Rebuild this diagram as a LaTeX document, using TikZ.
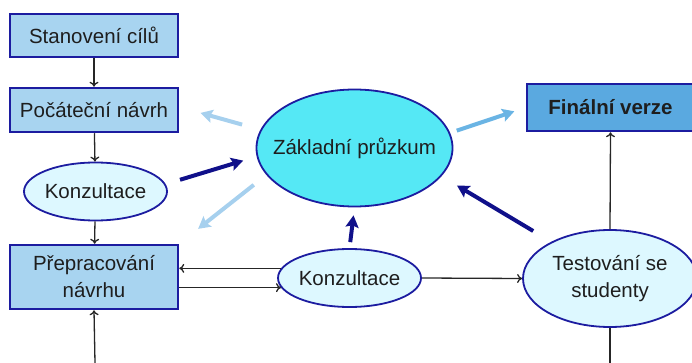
\documentclass[tikz,border=0pt]{standalone}
\usepackage{fontspec}
\setmainfont{Liberation Sans}
\usetikzlibrary{arrows.meta,positioning,shapes.geometric}

\definecolor{boxblue}{HTML}{A8D4F0}
\definecolor{edgenavy}{HTML}{1C1CA0}
\definecolor{paleblue}{HTML}{DDF8FF}
\definecolor{cyanfill}{HTML}{55E8F5}
\definecolor{finalblue}{HTML}{5AA9E0}
\definecolor{lightarrow}{HTML}{A6D0EE}
\definecolor{midarrow}{HTML}{6AB4E4}
\definecolor{darkarrow}{HTML}{10108A}
\definecolor{textgray}{HTML}{1E1E1E}

\begin{document}
\begin{tikzpicture}[x=1pt, y=-1pt,
  every node/.style={font=\fontsize{20.5}{27}\selectfont, text=textgray},
  stepbox/.style={draw=edgenavy, line width=2.5pt, fill=boxblue,
    minimum width=168pt, minimum height=44pt, inner sep=0pt, align=center},
  konz/.style={ellipse, draw=edgenavy, line width=1.8pt, fill=paleblue,
    inner xsep=-6pt, inner ysep=0pt, minimum width=143pt, minimum height=58pt},
  conn/.style={-{To[length=5pt,width=9pt]}, line width=1.3pt, black!85},
  lightarr/.style={-{Stealth[length=12pt,width=13pt,inset=2pt]}, line width=4pt, lightarrow},
  midarr/.style={lightarr, midarrow},
  navyarr/.style={lightarr, darkarrow}]
\useasboundingbox (0,0) rectangle (692,363);
% left column
\node[stepbox, minimum height=43pt] (stanoveni) at (94,35.5) {Stanovení cílů};
\node[stepbox] (pocatecni) at (94,110) {Počáteční návrh};
\node[konz] (konz1) at (95.5,191.5) {Konzultace};
\node[stepbox, minimum height=64pt] (prepracovani) at (94,277) {Přepracování\\návrhu};
\draw[conn] (stanoveni) -- (pocatecni);
\draw[conn] (pocatecni) -- (konz1);
\draw[conn] (konz1) -- (prepracovani);
% middle and right
\node[ellipse, draw=edgenavy, line width=1.8pt, fill=cyanfill, inner xsep=-22pt,
  inner ysep=0pt, minimum width=196pt, minimum height=117pt] (zakladni) at (354.5,148) {Základní průzkum};
\node[konz] (konz2) at (349.5,278) {Konzultace};
\node[stepbox, fill=finalblue, font=\fontsize{20.5}{27}\selectfont\bfseries,
  minimum width=167pt, minimum height=47pt] (finalni) at (610.5,107.5) {Finální verze};
\node[konz, inner xsep=0pt, minimum width=174pt, minimum height=97pt, align=center]
  (testovani) at (610,278.5) {Testování se\\studenty};
\coordinate (dolevpravo) at (610,363);
\coordinate (dolevlevo) at (95,363);
\draw[conn] (konz2.172) -- (konz2.172 -| prepracovani.east);
\draw[conn] (prepracovani.east |- konz2.188) -- (konz2.188);
\draw[conn] (konz2.east) -- (testovani.west);
\draw[conn] (testovani.north) -- (finalni.south);
\draw[conn, -] (testovani.south) -- (dolevpravo);
\draw[conn] (dolevlevo) -- (prepracovani.south);
% thick arrows
\draw[lightarr, shorten <=19pt, shorten >=22pt] (zakladni.169) -- ([yshift=3pt]pocatecni.east);
\draw[navyarr, shorten <=15pt, shorten >=14pt] (konz1.6) -- (zakladni.185);
\draw[lightarr, shorten <=16pt, shorten >=24pt] (zakladni.197) -- (prepracovani.north east);
\draw[navyarr, shorten <=6pt, shorten >=8pt] (konz2.north) -- (zakladni.south);
\draw[midarr, shorten <=7pt, shorten >=12pt] (zakladni.9) -- (finalni.west);
\draw[navyarr, shorten <=21pt, shorten >=18pt] (testovani.148) -- (zakladni.342);
\end{tikzpicture}
\end{document}
